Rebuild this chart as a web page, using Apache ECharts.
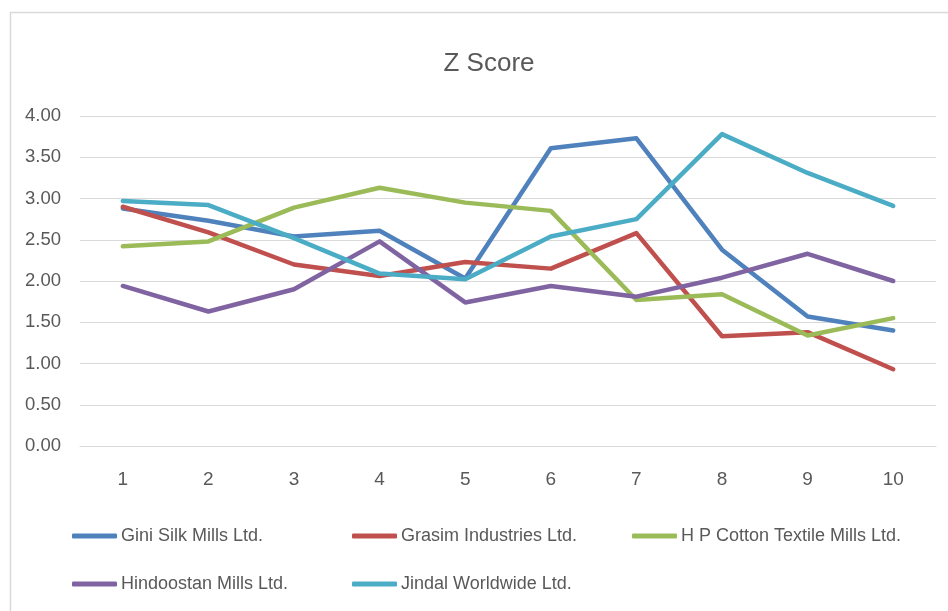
<!DOCTYPE html>
<html>
<head>
<meta charset="utf-8">
<script src="https://cdn.jsdelivr.net/npm/echarts@6/dist/echarts.min.js"></script>
<style>html,body{margin:0;padding:0;background:#fff;}#c{width:948px;height:611px;}</style>
</head>
<body>
<div id="c"></div>
<script>
const categories = ['1','2','3','4','5','6','7','8','9','10'];
const seriesNames = ['Gini Silk Mills Ltd.','Grasim Industries Ltd.','H P Cotton Textile Mills Ltd.','Hindoostan Mills Ltd.','Jindal Worldwide Ltd.'];
const gini     = [2.88, 2.73, 2.54, 2.61, 2.03, 3.61, 3.73, 2.38, 1.57, 1.40];
const grasim   = [2.90, 2.59, 2.20, 2.06, 2.23, 2.15, 2.58, 1.33, 1.38, 0.93];
const hpCotton = [2.42, 2.48, 2.89, 3.13, 2.95, 2.85, 1.77, 1.84, 1.34, 1.55];
const hindoostan = [1.94, 1.63, 1.90, 2.48, 1.74, 1.94, 1.81, 2.04, 2.33, 2.00];
const jindal   = [2.97, 2.92, 2.52, 2.09, 2.02, 2.54, 2.75, 3.78, 3.31, 2.91];
const yTicks = ['0.00','0.50','1.00','1.50','2.00','2.50','3.00','3.50','4.00'];

const colors = ['#4F81BD','#C0504D','#9BBB59','#8064A2','#4BACC6'];
const allData = [gini, grasim, hpCotton, hindoostan, jindal];
const FONT = '"Liberation Sans", Arial, sans-serif';
const TXT = '#595959';

const legendPos = [[72,527],[352,527],[632,527],[72,575],[352,575]];

const chart = echarts.init(document.getElementById('c'), null, {renderer:'canvas'});
chart.setOption({
  animation: false,
  backgroundColor: '#fff',
  color: colors,
  title: {
    text: 'Z Score', left: 484, top: 46, textAlign: 'center',
    textStyle: {fontFamily: FONT, fontSize: 26, fontWeight: 'normal', color: TXT}
  },
  graphic: [{
    type: 'rect', shape: {x: 10.5, y: 12.5, width: 960, height: 640},
    style: {fill: 'none', stroke: '#d9d9d9', lineWidth: 1.5}, silent: true
  }],
  legend: seriesNames.map((n, i) => ({
    data: [n], left: legendPos[i][0], top: legendPos[i][1], padding: 0,
    icon: 'roundRect', itemWidth: 45, itemHeight: 5, selectedMode: false,
    textStyle: {fontFamily: FONT, fontSize: 18, color: TXT, padding: [0,0,0,-1]}
  })),
  grid: {left: 80, right: 12, top: 116, bottom: 165, containLabel: false},
  xAxis: {
    type: 'category', data: categories, boundaryGap: true,
    axisLine: {show: true, lineStyle: {color: '#d9d9d9', width: 1}},
    axisTick: {show: false},
    axisLabel: {fontFamily: FONT, fontSize: 19, color: TXT, margin: 24}
  },
  yAxis: {
    type: 'value', min: 0, max: 4, interval: 0.5,
    axisLine: {show: false}, axisTick: {show: false},
    splitLine: {lineStyle: {color: '#d9d9d9', width: 1}},
    axisLabel: {fontFamily: FONT, fontSize: 18.5, color: TXT, margin: 19,
      formatter: v => yTicks[Math.round(v / 0.5)] }
  },
  series: seriesNames.map((n, i) => ({
    name: n, type: 'line', data: allData[i], symbol: 'none', smooth: false,
    lineStyle: {width: 4.5, color: colors[i], cap: 'round', join: 'round'},
    itemStyle: {color: colors[i]}
  }))
});
</script>
</body>
</html>
